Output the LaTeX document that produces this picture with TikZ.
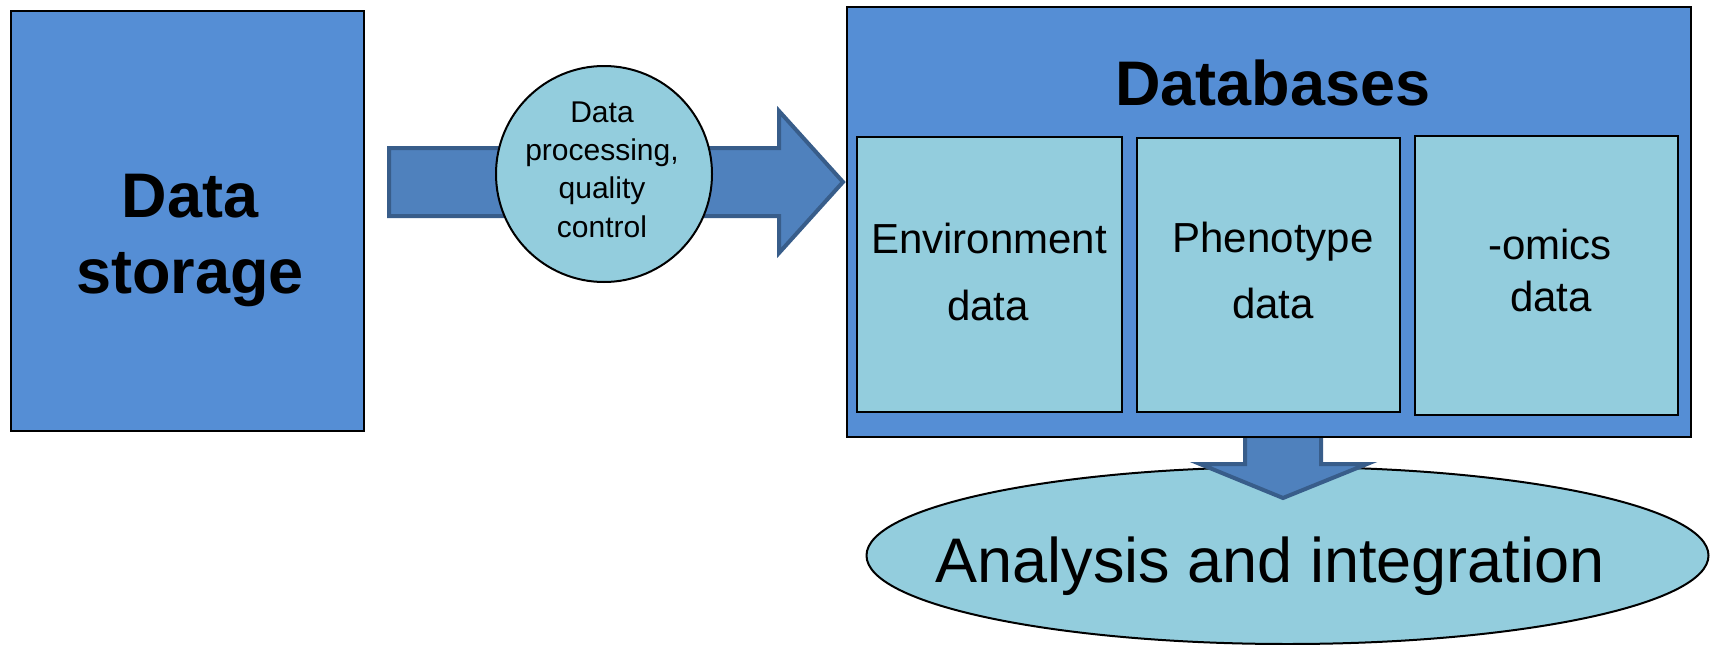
\documentclass[tikz,border=0pt]{standalone}
\usepackage{fontspec}
\setmainfont{Liberation Sans}
\usetikzlibrary{shapes.geometric}
\definecolor{boxblue}{HTML}{558ED5}
\definecolor{arrowblue}{HTML}{4F81BD}
\definecolor{arrowedge}{HTML}{385D8A}
\definecolor{lightblue}{HTML}{93CDDD}
\begin{document}
\begin{tikzpicture}[x=1pt,y=-1pt,
  bigbox/.style={draw=black, line width=2pt, fill=boxblue, rectangle, inner sep=0pt, outer sep=0pt},
  subbox/.style={draw=black, line width=2pt, fill=lightblue, rectangle, inner sep=0pt, outer sep=0pt},
  roundshape/.style={draw=black, line width=2pt, fill=lightblue, inner sep=0pt, outer sep=0pt},
  fatarrow/.style={draw=arrowedge, line width=4pt, fill=arrowblue, line join=miter},
  txt/.style={inner sep=0pt, anchor=base, text=black},
  bigbold/.style={txt, font=\fontsize{63}{63}\selectfont\bfseries},
  bigreg/.style={txt, font=\fontsize{63}{63}\selectfont},
  midreg/.style={txt, font=\fontsize{42}{42}\selectfont},
  smallreg/.style={txt, font=\fontsize{30}{30}\selectfont}]
\useasboundingbox (0,0) rectangle (1714,645);
\fill[white] (0,0) rectangle (1714,645);

% Analysis ellipse
\node[roundshape, ellipse, minimum width=842pt, minimum height=177pt] (analysis) at (1287.5,555.5) {};

% right block arrow (storage -> databases)
\coordinate (ratail) at (389,182);
\coordinate (ratip) at (843,182);
\draw[fatarrow] (ratail |- 0,148) -- (779,148) -- (779,111) -- (ratip) -- (779,253) -- (779,216) -- (ratail |- 0,216) -- cycle;

% down block arrow (databases -> analysis)
\coordinate (datop) at (1283,436);
\coordinate (datip) at (1283,498);
\draw[fatarrow] (1245,436) -- (1245,464) -- (1200,464) -- (datip) -- (1367,464) -- (1321,464) -- (1321,436) -- cycle;

% Databases box
\node[bigbox, minimum width=844pt, minimum height=430pt] (db) at (1269,222) {};
\node[subbox, minimum width=265pt, minimum height=275pt] (env) at (989.5,274.5) {};
\node[subbox, minimum width=263pt, minimum height=274pt] (phen) at (1268.5,275) {};
\node[subbox, minimum width=263pt, minimum height=279pt] (omics) at (1546,275.5) {};

% Data storage box
\node[bigbox, minimum width=353pt, minimum height=420pt] (storage) at (187.5,221) {};

% processing circle
\node[roundshape, circle, minimum size=216pt] (proc) at (604,174) {};

% texts
\node[bigbold] (t1) at (190,217) {Data};
\node[bigbold] (t2) at (190,293) {storage};
\node[bigbold] (t3) at (1273,105) {Databases};
\node[smallreg] (t4) at (602,122) {Data};
\node[smallreg] (t5) at (602,160) {processing,};
\node[smallreg] (t6) at (602,198) {quality};
\node[smallreg] (t7) at (602,237) {control};
\node[midreg] (t8) at (989,253) {Environment};
\node[midreg] (t9) at (988,320) {data};
\node[midreg] (t10) at (1273,252) {Phenotype};
\node[midreg] (t11) at (1273,318) {data};
\node[midreg] (t12) at (1550,259) {-omics};
\node[midreg] (t13) at (1551,311) {data};
\node[bigreg] (t14) at (1270,582) {Analysis and integration};
\end{tikzpicture}
\end{document}
